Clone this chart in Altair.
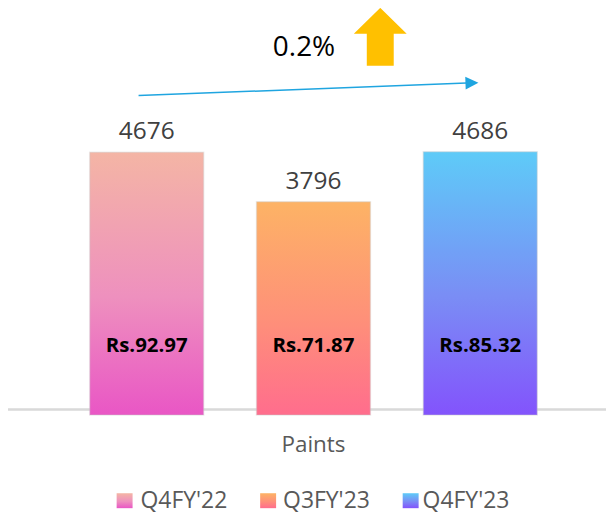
import altair as alt
import pandas as pd

# ---- data ----
quarters = ["Q4FY'22", "Q3FY'23", "Q4FY'23"]
volumes = [4676, 3796, 4686]
prices = ["Rs.92.97", "Rs.71.87", "Rs.85.32"]
category = "Paints"
growth = "0.2%"

df = pd.DataFrame({"quarter": quarters, "volume": volumes, "price": prices})

FONT = "Open Sans"

gradients = [
    [("#F4B5A5", 0), ("#EE90BE", 0.55), ("#E956C5", 1)],
    [("#FDB365", 0), ("#FE9079", 0.55), ("#FF6D8D", 1)],
    [("#5ECBF8", 0), ("#7A8DF5", 0.55), ("#8353FC", 1)],
]


def grad(stops):
    return alt.Gradient(
        gradient="linear",
        stops=[alt.GradientStop(color=c, offset=o) for c, o in stops],
        x1=0, x2=0, y1=0, y2=1,
    )


X = alt.X("quarter:N", sort=quarters, axis=None,
          scale=alt.Scale(domain=quarters, range=[82, 531],
                          paddingInner=0.317, paddingOuter=0))
Y = alt.Y("volume:Q", axis=None, scale=alt.Scale(domain=[-1763, 7230], nice=False, zero=False))

layers = []

# baseline
one = pd.DataFrame({"a": [0]})
layers.append(
    alt.Chart(one).mark_rule(color="#D9D9D9", strokeWidth=2.5).encode(
        x=alt.value(-1), x2=alt.value(600), y=alt.value(402)
    )
)

# bars
for i, q in enumerate(quarters):
    layers.append(
        alt.Chart(df).transform_filter(alt.datum.quarter == q)
        .mark_bar(color=grad(gradients[i]), stroke="#C8C8C8", strokeWidth=1.5, strokeOpacity=0.35)
        .encode(x=X, y=Y, y2=alt.datum(0))
    )

# value labels above bars
layers.append(
    alt.Chart(df).mark_text(font=FONT, fontSize=24.5, color="#404040",
                            baseline="alphabetic", dy=-13)
    .encode(x=X, y=Y, text="volume:Q")
)

# price labels inside bars
layers.append(
    alt.Chart(df).mark_text(font=FONT, fontSize=20.5, fontWeight="bold", color="#000000",
                            baseline="alphabetic")
    .encode(x=X, y=alt.value(344), text="price:N")
)

# category label
layers.append(
    alt.Chart(pd.DataFrame({"t": [category]})).mark_text(
        font=FONT, fontSize=22.5, color="#595959", baseline="alphabetic")
    .encode(x=alt.value(306.5), y=alt.value(445), text="t:N")
)

# growth text
layers.append(
    alt.Chart(pd.DataFrame({"t": [growth]})).mark_text(
        font=FONT, fontSize=28, color="#000000", baseline="alphabetic")
    .encode(x=alt.value(297), y=alt.value(47), text="t:N")
)

# yellow up arrow
up_arrow = "M0,-1L0.914,-0.103L0.466,-0.103L0.466,1L-0.466,1L-0.466,-0.103L-0.914,-0.103Z"
layers.append(
    alt.Chart(one).mark_point(shape=up_arrow, filled=True, fill="#FFC000",
                              strokeWidth=0, opacity=1, size=3364)
    .encode(x=alt.value(373.5), y=alt.value(28))
)

# blue trend arrow
layers.append(
    alt.Chart(one).mark_rule(color="#1FA5E0", strokeWidth=1.5).encode(
        x=alt.value(131), y=alt.value(87), x2=alt.value(460), y2=alt.value(74.5)
    )
)
layers.append(
    alt.Chart(one).mark_point(shape="M1,0L-1,-1L-1,1Z", filled=True, fill="#1FA5E0",
                              strokeWidth=0, opacity=1, size=169, angle=358)
    .encode(x=alt.value(465.5), y=alt.value(74.3))
)

# custom legend
leg_sq_x = [109, 253, 396]
leg_tx_x = [133, 276, 416]
for i, q in enumerate(quarters):
    layers.append(
        alt.Chart(one).mark_rect(color=grad(gradients[i])).encode(
            x=alt.value(leg_sq_x[i]), x2=alt.value(leg_sq_x[i] + 16),
            y=alt.value(486), y2=alt.value(501)
        )
    )
    layers.append(
        alt.Chart(pd.DataFrame({"t": [q]})).mark_text(
            font=FONT, fontSize=23, color="#595959", align="left", baseline="alphabetic")
        .encode(x=alt.value(leg_tx_x[i]), y=alt.value(501), text="t:N")
    )

chart = (
    alt.layer(*layers)
    .properties(width=600, height=507, padding=0,
                autosize=alt.AutoSizeParams(type="none"), background="white")
    .configure_view(stroke=None)
)

chart.save("out.html", embed_options={"renderer": "svg", "actions": False})
